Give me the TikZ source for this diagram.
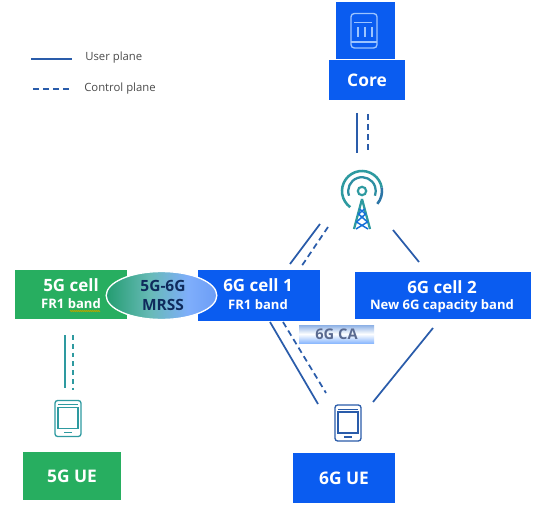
\documentclass[tikz,border=0pt]{standalone}
\usepackage{fontspec}
\setmainfont{Open Sans}
\usetikzlibrary{shapes.geometric,decorations.pathmorphing}
\definecolor{nblue}{HTML}{0A5CF0}
\definecolor{ngreen}{HTML}{27AE60}
\definecolor{lblue}{HTML}{2A5CAA}
\definecolor{lteal}{HTML}{2E9AA0}
\definecolor{iconpale}{HTML}{9CC4FF}
\definecolor{catext}{HTML}{5A6A90}
\definecolor{mtext}{HTML}{0F2A5C}
\pgfdeclarehorizontalshading{mrssshade}{100bp}{color(0bp)=(ngreen!90!blue); color(25bp)=(ngreen!90!blue); color(45bp)=(ngreen!45!iconpale); color(62bp)=(iconpale!70!nblue!90!white); color(75bp)=(nblue!60!white); color(100bp)=(nblue)}
\tikzset{
 x=0.75pt,y=-0.75pt,
 boxb/.style={fill=nblue,draw=none,text=white,align=center,font=\bfseries,inner sep=0pt},
 boxg/.style={fill=ngreen,draw=none,text=white,align=center,font=\bfseries,inner sep=0pt},
 big/.style={text=white,font=\bfseries\fontsize{12.7pt}{14pt}\selectfont,inner sep=0pt},
 small/.style={text=white,font=\bfseries\fontsize{9.8pt}{11pt}\selectfont,inner sep=0pt},
 uline/.style={draw=lblue,line width=1.3pt},
 cline/.style={draw=lblue,line width=1.3pt,dash pattern=on 4.5pt off 3pt},
 ulineg/.style={draw=lteal,line width=1.1pt},
 clineg/.style={draw=lteal,line width=1.1pt,dash pattern=on 3.6pt off 3pt},
 lab/.style={font=\fontsize{8.5pt}{10pt}\selectfont,text=black!70,anchor=west,inner sep=0pt},
 phone/.style={line width=1pt,rounded corners=2pt},
}
\newcommand{\phoneicon}[2]{%
 \begin{scope}[shift={(#1)}]
 \draw[#2,phone] (-13,-18) rectangle (13,18);
 \draw[#2,line width=0.8pt] (-10,-11) rectangle (10,10);
 \draw[#2,line width=0.6pt] (-10,-14) -- (10,-14);
 \draw[#2,line width=0.9pt] (-4,14) -- (4,14);
 \end{scope}}
\begin{document}
\begin{tikzpicture}
\useasboundingbox (0,0) rectangle (545,506);
\fill[white] (0,0) rectangle (545,506);
% legend
\coordinate (lu1) at (31,59); \coordinate (lu2) at (72,59);
\coordinate (lc1) at (33,89); \coordinate (lc2) at (72,89);
\draw[uline] (lu1) -- (lu2);
\draw[cline] (lc1) -- (lc2);
\node[lab] (lt1) at (85,58) {User plane};
\node[lab] (lt2) at (84,89) {Control plane};
% core
\node[boxb,minimum width=44.25pt,minimum height=42.75pt] (corebox) at (365.5,30.5) {};
\node[boxb,minimum width=57pt,minimum height=30pt,font=\bfseries\fontsize{13pt}{14pt}\selectfont] (core) at (367,80) {Core};
\draw[iconpale,line width=1pt,rounded corners=2.5pt] (351,13.5) rectangle (377,48);
\draw[iconpale,line width=0.9pt] (351,42) -- (377,42);
\draw[iconpale,line width=0.9pt] (354,22.5) -- (372,22.5);
\draw[iconpale,line width=1pt] (358,27) -- (358,37) (365,27) -- (365,37) (372,27) -- (372,37);
\coordinate (cu1) at (357,113); \coordinate (cu2) at (357,153);
\coordinate (cc1) at (368,114); \coordinate (cc2) at (368,153);
\draw[uline] (cu1) -- (cu2);
\draw[cline] (cc1) -- (cc2);
% antenna
\begin{scope}[shift={(362,191)}]
\draw[lteal,line width=1.9pt] (0,0) ++(126:20) arc[start angle=126,end angle=350,radius=20];
\draw[lblue!60!lteal,line width=1.9pt] (0,0) ++(350:20) arc[start angle=350,end angle=400,radius=20];
\draw[lteal!80!lblue,line width=1.7pt] (0,0) ++(160:13.8) arc[start angle=160,end angle=380,radius=13.8];
\draw[lteal,line width=1.6pt] (0,0) circle[radius=4.2];
\draw[lteal,line width=1.7pt] (0,8) -- (-8,38) (0,8) -- (8,38);
\draw[nblue!70!lteal,line width=1.1pt] (-2.5,18) -- (3.5,23) -- (-5.5,31) -- (6,38) (2.5,18) -- (-3.5,23) -- (5.5,31) -- (-6,38);
\end{scope}
% upper links
\coordinate (a1) at (320,224); \coordinate (a2) at (290,264);
\coordinate (a3) at (328,227); \coordinate (a4) at (301,267);
\coordinate (a5) at (393,230); \coordinate (a6) at (419,262);
\draw[uline] (a1) -- (a2);
\draw[cline] (a3) -- (a4);
\draw[uline] (a5) -- (a6);
% cells
\node[boxg,minimum width=84pt,minimum height=36.75pt] (c5) at (71,294.5) {};
\node[big] (c5a) at (71,285) {5G cell};
\node[small] (c5b) at (71,304) {FR1 band};
\draw[olive!70!yellow,line width=0.6pt,decorate,decoration={zigzag,segment length=1.5pt,amplitude=0.4pt}] (70,311) -- (100,311);
\node[boxb,minimum width=91.5pt,minimum height=38.25pt] (c61) at (259,295.5) {};
\node[big] (c61a) at (258,285) {6G cell 1};
\node[small] (c61b) at (258,305) {FR1 band};
\node[boxb,minimum width=132pt,minimum height=35.25pt] (c62) at (443,295.5) {};
\node[big] (c62a) at (442,287) {6G cell 2};
\node[small] (c62b) at (442,306) {New 6G capacity band};
% MRSS
\node[ellipse,draw=white,line width=1pt,minimum width=83pt,minimum height=36pt,inner sep=0pt,
  shading=mrssshade,shading angle=0] (mrss) at (161.5,295.5) {};
\node[text=mtext,font=\bfseries\fontsize{11.6pt}{13.5pt}\selectfont,align=center,inner sep=0pt] (mt) at (163,295.5) {5G-6G\\[1pt]MRSS};
% CA band
\node[top color=iconpale!90!black,bottom color=iconpale!90!nblue,middle color=white,minimum width=56.25pt,minimum height=13.5pt,inner sep=0pt,text=catext,font=\bfseries\fontsize{11pt}{12pt}\selectfont] (ca) at (336.5,334) {6G CA};
% lower links
\coordinate (b1) at (270,322); \coordinate (b2) at (318,404);
\coordinate (b3) at (283,322); \coordinate (b4) at (326,393);
\coordinate (b5) at (433,328); \coordinate (b6) at (373,402);
\draw[uline] (b1) -- (b2);
\draw[cline] (b3) -- (b4);
\draw[uline] (b5) -- (b6);
% phones
\phoneicon{348,423}{draw=lblue}
\phoneicon{68,418.5}{draw=lteal}
\coordinate (g1) at (65,335); \coordinate (g2) at (65,388);
\coordinate (g3) at (73,335); \coordinate (g4) at (73,390);
\draw[ulineg] (g1) -- (g2);
\draw[clineg] (g3) -- (g4);
% UEs
\node[boxb,minimum width=76.5pt,minimum height=37.5pt,font=\bfseries\fontsize{13pt}{14pt}\selectfont] (ue6) at (344,478) {6G UE};
\node[boxg,minimum width=73pt,minimum height=36pt,font=\bfseries\fontsize{13pt}{14pt}\selectfont] (ue5) at (72,476) {5G UE};
\end{tikzpicture}
\end{document}
